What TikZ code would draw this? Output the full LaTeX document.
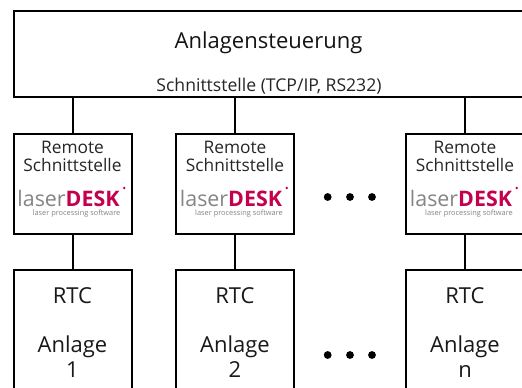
\documentclass[tikz,border=0pt]{standalone}
\usepackage{fontspec}
\setmainfont{Open Sans}
\definecolor{ldred}{HTML}{C4004F}
\definecolor{ldgray}{HTML}{858585}
\tikzset{x=1pt,y=-1pt,
 boxline/.style={draw=black,line width=2pt,fill=white,line join=miter,outer sep=0pt},
 conn/.style={draw=black,line width=2pt},
 title/.style={inner sep=0pt,anchor=base,font=\fontsize{22}{24}\selectfont,text=black!92},
 small/.style={inner sep=0pt,anchor=base,font=\fontsize{17.3}{20}\selectfont,text=black!85},
 wide/.style={inner sep=0pt,anchor=base,font=\fontsize{17.6}{20}\selectfont,text=black!85},
 big/.style={inner sep=0pt,anchor=base,font=\fontsize{22}{24}\selectfont,text=black!90},
 dotm/.style={circle,fill=black,inner sep=0pt,minimum size=7.8pt},
 rbox/.style={boxline,minimum width=118pt,minimum height=100pt,anchor=north west,inner sep=0pt},
 abox/.style={boxline,minimum width=118pt,minimum height=140pt,anchor=north west,inner sep=0pt},
}
\newcommand{\ldlogo}[2]{%
 \node[inner sep=0pt,anchor=base,text depth=0pt] (#1w) at (#2) {\fontsize{21.4}{24}\selectfont\color{ldgray}laser\textbf{\color{ldred}DESK}};
 \node[inner sep=0pt,anchor=base,text height=4pt] (#1s) at ([yshift=-9.3pt,xshift=8pt]#2) {\fontsize{7.4}{8}\selectfont\color{ldgray}laser processing software};
 \fill[ldred] ([xshift=4.5pt,yshift=1.5pt]#1w.north east) circle (1.4pt);
}
\begin{document}
\begin{tikzpicture}
\useasboundingbox (0,0) rectangle (522,388);
\fill[white] (0,0) rectangle (522,388);
\begin{scope}
\clip (0,0) rectangle (522,388);
\node[boxline,minimum width=530pt,minimum height=85.5pt,anchor=north west,inner sep=0pt] (top) at (13.5,11) {};
\node[rbox] (r1) at (13.5,133.5) {};
\node[rbox] (r2) at (176,133.5) {};
\node[rbox] (r3) at (406,133.5) {};
\node[abox] (a1) at (13.5,270) {};
\node[abox] (a2) at (176,270) {};
\node[abox] (a3) at (406,270) {};
\foreach \n in {1,2,3}{
 \draw[conn] (top.south -| r\n.north) -- (r\n.north);
 \draw[conn] (r\n.south) -- (a\n.north);
}
\end{scope}
\node[title] (t) at (268.5,48) {Anlagensteuerung};
\node[wide] (s) at (269,91.5) {Schnittstelle (TCP/IP, RS232)};
\foreach \n/\x in {1/72.5,2/235,3/465}{
 \node[small] (rta\n) at (\x,153.8) {Remote};
 \node[small] (rtb\n) at (\x,171.7) {Schnittstelle};
 \coordinate (lg\n) at (\x-4,206);
 \ldlogo{l\n}{lg\n}
}
\foreach \n/\x/\k in {1/72.5/1,2/235/2,3/465/n}{
 \node[big] (ata\n) at (\x,303.7) {RTC};
 \node[big] (atb\n) at (\x,352.5) {Anlage};
 \node[big] (atc\n) at (\x,377) {\k};
}
\foreach \n/\x in {a/327.7,b/350,c/372}{
 \node[dotm] (da\n) at (\x,197) {};
 \node[dotm] (db\n) at (\x,355) {};
}
\end{tikzpicture}
\end{document}
